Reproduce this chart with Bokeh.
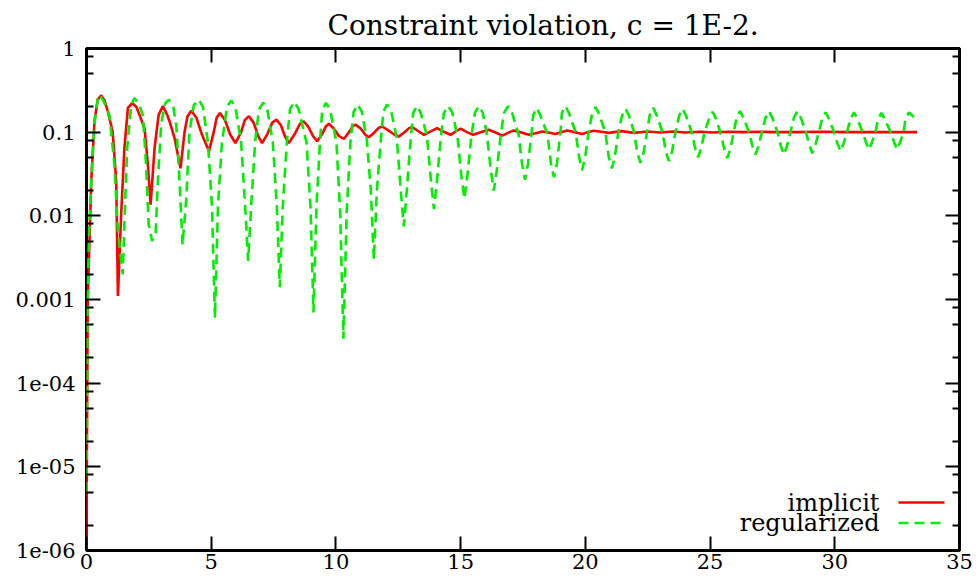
from bokeh.plotting import figure
from bokeh.models import (FixedTicker, LinearAxis, LogAxis, Label, Arrow,
                          CustomJSTickFormatter, Range1d)
from bokeh.embed import file_html
from bokeh.resources import INLINE

# ---------------- data ----------------
implicit_points = [
    (0.00, 1e-6), (0.02, 3e-5), (0.05, 1e-3), (0.12, 5e-3), (0.19, 0.026), (0.32, 0.135),
    (0.45, 0.245), (0.59, 0.275), (0.72, 0.24), (0.85, 0.18), (1.05, 0.10), (1.19, 0.026),
    (1.26, 0.0011), (1.39, 0.0105), (1.52, 0.065), (1.66, 0.195), (1.83, 0.223), (2.00, 0.20),
    (2.13, 0.16), (2.33, 0.11), (2.46, 0.041), (2.57, 0.0136), (2.73, 0.065), (2.89, 0.16),
    (3.06, 0.205), (3.20, 0.17), (3.33, 0.135), (3.53, 0.085), (3.77, 0.037), (3.93, 0.10),
    (4.05, 0.155), (4.20, 0.18), (4.40, 0.15), (4.62, 0.095), (4.91, 0.059), (5.10, 0.10),
    (5.22, 0.15), (5.35, 0.17), (5.55, 0.14), (5.75, 0.095), (5.97, 0.074), (6.20, 0.10),
    (6.35, 0.14), (6.51, 0.155), (6.70, 0.13), (6.88, 0.09), (7.04, 0.074), (7.25, 0.095),
    (7.45, 0.13), (7.62, 0.141), (7.80, 0.12), (7.95, 0.09), (8.11, 0.074), (8.35, 0.095),
    (8.55, 0.125), (8.71, 0.135), (8.90, 0.115), (9.08, 0.09), (9.25, 0.078), (9.45, 0.095),
    (9.60, 0.118), (9.72, 0.126), (9.92, 0.11), (10.12, 0.09), (10.32, 0.083), (10.52, 0.10),
    (10.68, 0.118), (10.79, 0.123), (11.00, 0.11), (11.18, 0.093), (11.32, 0.087), (11.55, 0.10),
    (11.72, 0.113), (11.86, 0.117), (12.10, 0.105), (12.35, 0.093), (12.53, 0.089), (12.75, 0.10),
    (12.92, 0.111), (13.06, 0.115), (13.28, 0.104), (13.53, 0.093), (13.80, 0.102), (14.06, 0.112),
    (14.32, 0.101), (14.60, 0.093), (14.80, 0.102), (15.00, 0.11), (15.25, 0.10), (15.50, 0.093),
    (15.80, 0.10), (16.13, 0.107), (16.40, 0.099), (16.67, 0.091), (16.90, 0.098), (17.13, 0.105),
    (17.43, 0.099), (17.73, 0.093), (18.00, 0.097), (18.27, 0.102), (18.53, 0.099), (18.80, 0.095),
    (19.03, 0.10), (19.27, 0.105), (19.57, 0.10), (19.87, 0.095), (20.10, 0.10), (20.34, 0.104),
    (20.64, 0.101), (20.94, 0.098), (21.45, 0.103), (21.95, 0.098), (22.50, 0.102), (23.00, 0.099),
    (23.50, 0.102), (24.00, 0.099), (24.60, 0.101), (25.10, 0.099), (25.70, 0.101), (26.30, 0.10),
    (27.00, 0.101), (27.60, 0.10), (28.50, 0.10), (29.50, 0.101), (30.50, 0.10), (31.50, 0.10),
    (32.50, 0.10), (33.30, 0.10),
]

regularized_points = [
    (0.00, 5e-6), (0.02, 6e-5), (0.05, 1.2e-3), (0.10, 6e-3), (0.20, 0.03), (0.32, 0.13),
    (0.45, 0.25), (0.53, 0.28), (0.70, 0.23), (0.92, 0.16), (1.12, 0.04), (1.26, 0.0066),
    (1.45, 0.0020), (1.53, 0.010), (1.63, 0.065), (1.79, 0.21), (1.92, 0.255), (2.10, 0.22),
    (2.26, 0.16), (2.39, 0.040), (2.49, 0.008), (2.63, 0.005), (2.77, 0.006), (2.86, 0.026),
    (3.00, 0.13), (3.15, 0.22), (3.30, 0.245), (3.48, 0.20), (3.60, 0.12), (3.73, 0.026),
    (3.85, 0.0045), (4.00, 0.016), (4.13, 0.10), (4.30, 0.21), (4.50, 0.245), (4.67, 0.20),
    (4.87, 0.075), (5.03, 0.013), (5.15, 0.0006), (5.27, 0.013), (5.43, 0.075), (5.63, 0.20), (5.80, 0.24), (5.97, 0.20),
    (6.20, 0.075), (6.36, 0.013), (6.48, 0.0029), (6.60, 0.013), (6.76, 0.075), (6.91, 0.185), (7.08, 0.225), (7.25, 0.185),
    (7.47, 0.075), (7.63, 0.013), (7.75, 0.0014), (7.87, 0.013), (8.03, 0.075), (8.16, 0.19), (8.33, 0.23), (8.50, 0.19),
    (8.82, 0.075), (8.98, 0.013), (9.10, 0.0007), (9.22, 0.013), (9.36, 0.075), (9.45, 0.185), (9.60, 0.224), (9.77, 0.185),
    (10.02, 0.075), (10.17, 0.011), (10.30, 0.00034), (10.43, 0.011), (10.58, 0.075), (10.71, 0.175), (10.87, 0.214), (11.04, 0.175),
    (11.24, 0.08), (11.40, 0.02), (11.52, 0.003), (11.64, 0.02), (11.80, 0.08), (11.90, 0.175), (12.05, 0.214), (12.22, 0.175),
    (12.44, 0.085), (12.60, 0.02), (12.72, 0.0075), (12.84, 0.02), (13.00, 0.085), (13.10, 0.17), (13.25, 0.205), (13.40, 0.17),
    (13.65, 0.09), (13.81, 0.026), (13.93, 0.012), (14.05, 0.026), (14.21, 0.09), (14.33, 0.17), (14.50, 0.205), (14.67, 0.17),
    (14.87, 0.09), (15.03, 0.03), (15.15, 0.016), (15.27, 0.03), (15.43, 0.09), (15.57, 0.17), (15.73, 0.205), (15.89, 0.17),
    (16.05, 0.095), (16.21, 0.035), (16.33, 0.020), (16.45, 0.035), (16.61, 0.095), (16.74, 0.17), (16.90, 0.205), (17.06, 0.17),
    (17.32, 0.095), (17.46, 0.042), (17.58, 0.027), (17.70, 0.042), (17.84, 0.095), (17.91, 0.16), (18.05, 0.195), (18.19, 0.16),
    (18.48, 0.095), (18.62, 0.042), (18.74, 0.029), (18.86, 0.042), (19.00, 0.10), (19.06, 0.17), (19.20, 0.205), (19.34, 0.17),
    (19.61, 0.10), (19.75, 0.05), (19.87, 0.035), (19.99, 0.05), (20.13, 0.10), (20.27, 0.165), (20.41, 0.20), (20.55, 0.165),
    (20.80, 0.10), (20.94, 0.05), (21.06, 0.037), (21.18, 0.05), (21.32, 0.10), (21.47, 0.157), (21.61, 0.19), (21.75, 0.157),
    (21.95, 0.10), (22.09, 0.056), (22.21, 0.043), (22.33, 0.056), (22.47, 0.10), (22.58, 0.16), (22.72, 0.195), (22.86, 0.16),
    (23.09, 0.10), (23.23, 0.058), (23.35, 0.045), (23.47, 0.058), (23.61, 0.10), (23.76, 0.157), (23.90, 0.19), (24.04, 0.157),
    (24.26, 0.10), (24.40, 0.064), (24.52, 0.05), (24.64, 0.064), (24.78, 0.10), (24.96, 0.145), (25.10, 0.175), (25.24, 0.145),
    (25.43, 0.095), (25.57, 0.063), (25.69, 0.049), (25.81, 0.063), (25.95, 0.10), (26.06, 0.148), (26.20, 0.178), (26.34, 0.148),
    (26.56, 0.10), (26.70, 0.068), (26.82, 0.054), (26.94, 0.068), (27.08, 0.10), (27.22, 0.148), (27.36, 0.178), (27.50, 0.148),
    (27.70, 0.10), (27.84, 0.068), (27.96, 0.054), (28.08, 0.068), (28.22, 0.10), (28.36, 0.148), (28.50, 0.178), (28.64, 0.148),
    (28.84, 0.10), (28.98, 0.07), (29.10, 0.056), (29.22, 0.07), (29.36, 0.10), (29.49, 0.143), (29.63, 0.172), (29.77, 0.143),
    (29.97, 0.10), (30.11, 0.073), (30.23, 0.059), (30.35, 0.073), (30.49, 0.10), (30.63, 0.143), (30.77, 0.172), (30.91, 0.143),
    (31.11, 0.10), (31.25, 0.076), (31.37, 0.062), (31.49, 0.076), (31.63, 0.10), (31.73, 0.142), (31.87, 0.17), (32.01, 0.142),
    (32.24, 0.10), (32.38, 0.076), (32.50, 0.062), (32.62, 0.076), (32.76, 0.10), (32.83, 0.143), (32.97, 0.172), (33.11, 0.158),
    (33.31, 0.135),
]

series_names = ["implicit", "regularized"]
series_colors = ["#ff0000", "#00ee00"]
x_ticks = [0, 5, 10, 15, 20, 25, 30, 35]
y_ticks = [1e-6, 1e-5, 1e-4, 1e-3, 1e-2, 1e-1, 1.0]
y_tick_labels = ["1e-06", "1e-05", "1e-04", "0.001", "0.01", "0.1", "1"]
y_minor_mantissas = [2, 5, 8]
title_text = "Constraint violation, c = 1E-2."

FONT = "DejaVu Serif"
TICK_SIZE = "21px"
TITLE_SIZE = "28px"
LEGEND_SIZE = "24px"

imp_t = [p[0] for p in implicit_points]
imp_v = [p[1] for p in implicit_points]
reg_t = [p[0] for p in regularized_points]
reg_v = [p[1] for p in regularized_points]
y_minor = [m * d for d in y_ticks[:-1] for m in y_minor_mantissas]

p = figure(width=975, height=580, x_range=Range1d(0, 35), y_range=Range1d(1e-6, 1.0),
           y_axis_type="log", output_backend="svg", toolbar_location=None,
           min_border_left=86, min_border_right=16, min_border_top=47, min_border_bottom=30)
p.background_fill_color = "white"
p.border_fill_color = "white"
p.grid.visible = False
p.outline_line_color = "black"
p.outline_line_width = 3

p.title.text = title_text
p.title.align = "left"
p.title.offset = 241
p.title.text_font = FONT
p.title.text_font_size = TITLE_SIZE
p.title.text_font_style = "normal"
p.title.text_color = "black"
p.title.standoff = 13

x_ticker = FixedTicker(ticks=x_ticks, minor_ticks=[])
y_ticker = FixedTicker(ticks=y_ticks, minor_ticks=y_minor)
y_fmt = CustomJSTickFormatter(args=dict(vals=y_ticks, labels=y_tick_labels), code="""
for (let i = 0; i < vals.length; i++) {
  if (Math.abs(Math.log10(tick) - Math.log10(vals[i])) < 1e-6) return labels[i];
}
return '';
""")
blank_fmt = CustomJSTickFormatter(code="return '';")

def style_axis(ax):
    ax.axis_line_color = None
    ax.major_tick_in = 14
    ax.major_tick_out = 0
    ax.minor_tick_in = 7
    ax.minor_tick_out = 0
    ax.major_tick_line_width = 2
    ax.minor_tick_line_width = 2
    ax.major_tick_line_color = "black"
    ax.minor_tick_line_color = "black"
    ax.major_label_text_font = FONT
    ax.major_label_text_font_size = TICK_SIZE
    ax.major_label_text_color = "black"

p.xaxis.ticker = x_ticker
p.yaxis.ticker = y_ticker
p.yaxis.formatter = y_fmt
style_axis(p.xaxis[0])
style_axis(p.yaxis[0])
p.xaxis.major_label_standoff = 3
p.yaxis.major_label_standoff = 11

top_ax = LinearAxis(ticker=x_ticker, formatter=blank_fmt, major_label_standoff=0)
right_ax = LogAxis(ticker=y_ticker, formatter=blank_fmt, major_label_standoff=0)
style_axis(top_ax)
style_axis(right_ax)
p.add_layout(top_ax, "above")
p.add_layout(right_ax, "right")

# curves
p.line(imp_t, imp_v, line_color=series_colors[0], line_width=2.6)
p.line(reg_t, reg_v, line_color=series_colors[1], line_width=2.6, line_dash="10 6")

# legend (gnuplot style: text on the left, sample on the right)
for i, (name, color, dash) in enumerate(zip(series_names, series_colors, ["solid", "10 6"])):
    yy = 48 - 20.5 * i
    p.add_layout(Label(x=793, y=yy, x_units="screen", y_units="screen", text=name,
                       text_align="right", text_baseline="middle", text_font=FONT,
                       text_font_size=LEGEND_SIZE, text_color="black"))
    p.add_layout(Arrow(x_start=812, y_start=yy, x_end=858, y_end=yy,
                       start_units="screen", end_units="screen", start=None, end=None,
                       line_color=color, line_width=2.6, line_dash=dash))

open("out.html", "w").write(file_html(p, INLINE))
